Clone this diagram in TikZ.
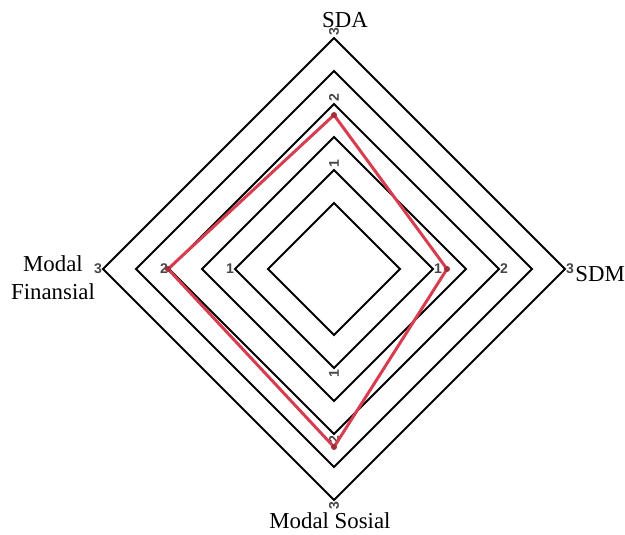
\documentclass[tikz,border=0pt]{standalone}
\usepackage{fontspec}
\setmainfont{Liberation Serif}
\setsansfont{Liberation Sans}
\definecolor{radarred}{RGB}{214,62,80}
\definecolor{tickgray}{RGB}{70,70,70}
\tikzset{
	ring/.style={draw=black, line width=1.1pt, line join=miter},
	dataline/.style={draw=radarred, line width=1.7pt, line join=round},
	datadot/.style={fill=radarred!75!black},
	ticklabel/.style={font=\sffamily\bfseries\fontsize{8}{8}\selectfont, text=tickgray, inner sep=0pt},
	axislabel/.style={font=\fontsize{13}{16}\selectfont, align=center, inner sep=0pt},
}

\begin{document}
\begin{tikzpicture}[x=0.02cm,y=0.02cm]
	\useasboundingbox (-334,-265) rectangle (291,269);
	\coordinate (o) at (0,0);

	% rings
	\foreach \r in {66,99,132,165,198,231}
		\draw[ring] (0,\r) -- (\r,0) -- (0,-\r) -- (-\r,0) -- cycle;

	% scale labels
	\foreach \v/\r in {1/99,2/165,3/231} {
		\node[ticklabel, rotate=90] at (0,\r+6) {\v};
		\node[ticklabel, rotate=90] at (0,-\r-6) {\v};
		\node[ticklabel] at (-\r-5,0) {\v};
		\node[ticklabel] at (\r+5,0) {\v};
	}

	% data
	\coordinate (sda) at (0,154);
	\coordinate (sdm) at (113,0);
	\coordinate (sosial) at (0,-178);
	\coordinate (finansial) at (-166,0);
	\draw[dataline] (sda) -- (sdm) -- (sosial) -- (finansial) -- cycle;
	\foreach \p in {sda,sdm,sosial,finansial}
		\fill[datadot] (\p) circle (3);

	% axis names
	\node[axislabel] (lsda) at (11,249) {SDA};
	\node[axislabel, anchor=west] (lsdm) at (241,-5) {SDM};
	\node[axislabel] (lsosial) at (-4,-252) {Modal Sosial};
	\node[axislabel] (lfinansial) at (-281,-9) {Modal\\Finansial};
\end{tikzpicture}
\end{document}
